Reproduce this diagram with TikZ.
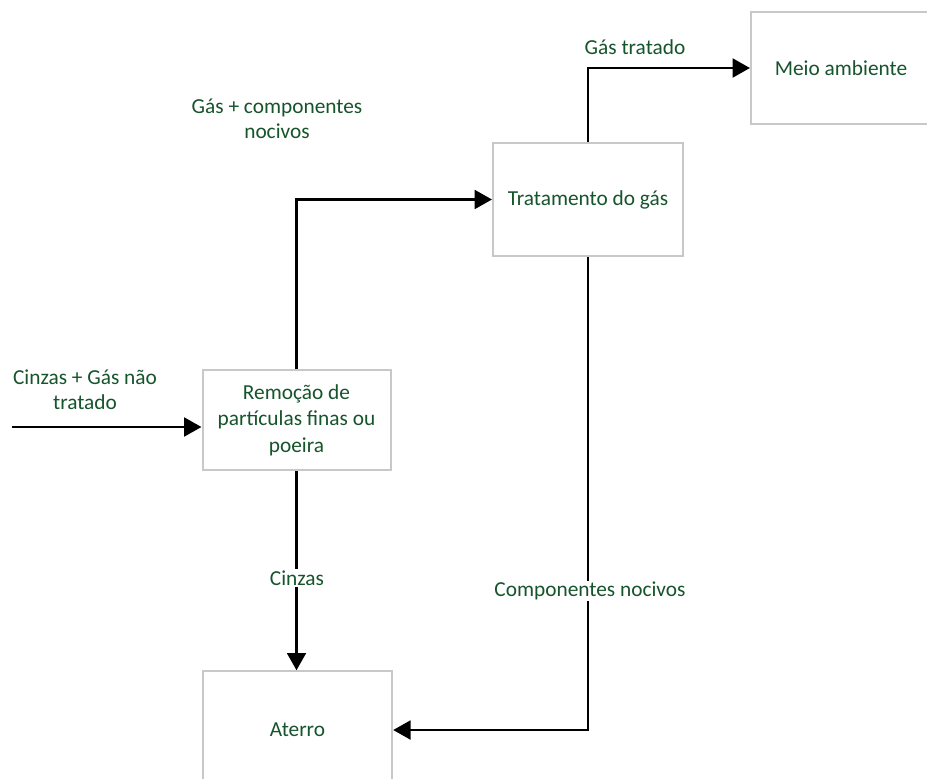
\documentclass[tikz,border=0pt]{standalone}
\usepackage{fontspec}
\setmainfont{Carlito}
\usetikzlibrary{arrows.meta}
\definecolor{textgreen}{RGB}{22,84,44}
\definecolor{boxgray}{RGB}{200,200,200}
\tikzset{
  stage/.style={draw=boxgray, line width=1.5pt, fill=white, text=textgreen,
    align=center, inner sep=2pt},
  flow/.style={line width=2.2pt, -{Triangle[length=13pt,width=14pt]}},
  feed/.style={line width=0.8pt},
  tag/.style={text=textgreen, align=center, fill=white, inner sep=1pt}
}
\begin{document}
\begin{tikzpicture}[x=0.75pt,y=-0.75pt,font=\fontsize{16}{18.5}\selectfont]
      \useasboundingbox (0,0) rectangle (927,778);
      \clip (0,0) rectangle (927,778);
      % stages
      \node[stage, minimum width=141pt, minimum height=75pt] (rem) at (296.5,420)
        {Remoção de\\[1.5pt]partículas finas ou\\[1.5pt]poeira};
      \node[stage, minimum width=142.5pt, minimum height=85pt] (trat) at (588,199.5)
        {Tratamento do gás};
      \node[stage, minimum width=135pt, minimum height=84pt] (meio) at (841,68)
        {Meio ambiente};
      \node[stage, minimum width=142pt, minimum height=88pt] (aterro) at (297.5,730)
        {Aterro};
      \coordinate (in) at (12,427);
      \coordinate (inb) at (165,427);
      % flows
      \draw[feed] (in) -- (inb);
      \draw[flow] (inb) -- (inb -| rem.west);
      \draw[flow] (rem.north) |- (trat.west);
      \draw[flow] (trat.north) |- (meio.west);
      \draw[flow] (trat.south) |- (aterro.east);
      \draw[flow] (rem.south) -- (rem.south |- aterro.north);
      % labels
      \node[tag] (lin) at (85,390) {Cinzas + Gás não\\tratado};
      \node[tag] (lgas) at (277,119) {Gás + componentes\\nocivos};
      \node[tag] (ltrat) at (635,47) {Gás tratado};
      \node[tag] (lcinz) at (297,578) {Cinzas};
      \node[tag] (lcomp) at (590,591) {Componentes nocivos};
    \end{tikzpicture}
\end{document}
